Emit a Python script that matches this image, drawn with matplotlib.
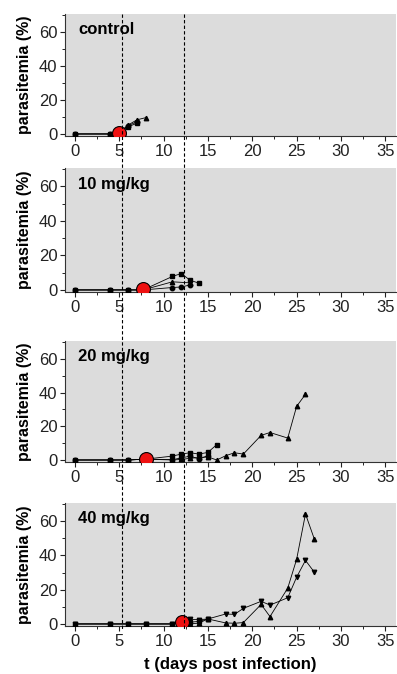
import matplotlib
matplotlib.use("Agg")
import matplotlib.pyplot as plt
from matplotlib.lines import Line2D
from matplotlib.ticker import MultipleLocator
import matplotlib.transforms as mtransforms

plt.rcParams['font.family'] = ['Liberation Sans', 'DejaVu Sans']

panel_labels = ["control", "10 mg/kg", "20 mg/kg", "40 mg/kg"]

# control
ctrl_sq_days = [0, 4, 5, 6, 7]
ctrl_sq_vals = [0, 0, 0.8, 4.2, 6.3]
ctrl_ci_days = [0, 4, 5, 6, 7]
ctrl_ci_vals = [0, 0, 0.8, 4.8, 7.2]
ctrl_tr_days = [0, 4, 5, 6, 7, 8]
ctrl_tr_vals = [0, 0, 0.8, 5.2, 8.3, 9.6]
ctrl_red = (5, 0.8)

# 10 mg/kg
d10_sq_days = [0, 4, 6, 7.7, 11, 12, 13, 14]
d10_sq_vals = [0, 0, 0, 0, 7.8, 9.5, 5.6, 3.9]
d10_tr_days = [0, 4, 6, 7.7, 11, 13]
d10_tr_vals = [0, 0, 0, 0, 4.7, 4.1]
d10_ci_days = [0, 4, 6, 7.7, 11, 12, 13]
d10_ci_vals = [0, 0, 0, 0, 1.4, 1.7, 2.9]
d10_red = (7.7, 0.3)

# 20 mg/kg
d20_sq_days = [0, 4, 6, 8, 11, 12, 13, 14, 15, 16]
d20_sq_vals = [0, 0, 0, 0.5, 2.3, 3.5, 4.3, 3.5, 4.5, 9.1]
d20_ci_days = [0, 4, 6, 8, 11, 12, 13, 14, 15]
d20_ci_vals = [0, 0, 0, 0.5, 0.2, 1.2, 2.3, 0.6, 2.5]
d20_tr_days = [0, 4, 6, 8, 11, 12, 13, 14, 15, 16, 17, 18, 19, 21, 22, 24, 25, 26]
d20_tr_vals = [0, 0, 0, 0.5, 0, 0.3, 1.0, 1.5, 1.8, 0, 2.5, 4.3, 3.5, 14.6, 16.3, 13, 31.8, 39]
d20_red = (8, 0.5)

# 40 mg/kg
d40_sq_days = [0, 4, 6, 8, 11, 12.1, 13, 14, 15]
d40_sq_vals = [0, 0, 0, 0, 0, 1, 1, 1.5, 2.9]
d40_dn_days = [0, 4, 6, 8, 11, 12.1, 13, 14, 15, 17, 18, 19, 21, 22, 24, 25, 26, 27]
d40_dn_vals = [0, 0, 0, 0, 0, 1, 2.7, 2.5, 2.9, 5.8, 5.6, 9.1, 13.2, 11, 15.3, 27.3, 37.1, 30.2]
d40_up_days = [0, 4, 6, 8, 11, 12.1, 13, 14, 15, 17, 18, 19, 21, 22, 24, 25, 26, 27]
d40_up_vals = [0, 0, 0, 0, 0, 1, 0, 0.5, 2.9, 0.6, 0.4, 0.8, 11.4, 4.3, 20.9, 37.7, 64.2, 49.5]
d40_red = (12.1, 1.0)

vlines_x = [5.3, 12.3]
xticks = [0, 5, 10, 15, 20, 25, 30, 35]
yticks = [0, 20, 40, 60]

panels = [
    [(ctrl_sq_days, ctrl_sq_vals, 's'), (ctrl_ci_days, ctrl_ci_vals, 'o'), (ctrl_tr_days, ctrl_tr_vals, '^')],
    [(d10_sq_days, d10_sq_vals, 's'), (d10_tr_days, d10_tr_vals, '^'), (d10_ci_days, d10_ci_vals, 'o')],
    [(d20_sq_days, d20_sq_vals, 's'), (d20_ci_days, d20_ci_vals, 'o'), (d20_tr_days, d20_tr_vals, '^')],
    [(d40_sq_days, d40_sq_vals, 's'), (d40_dn_days, d40_dn_vals, 'v'), (d40_up_days, d40_up_vals, '^')],
]
reds = [ctrl_red, d10_red, d20_red, d40_red]

W, H = 397, 674
fig = plt.figure(figsize=(W / 100, H / 100), dpi=100)
fig.patch.set_facecolor('white')

# pixel rows (top, bottom) for each panel
rows = [(14, 136), (168, 292), (341, 462), (503, 626)]
left_px, right_px = 65, 396

axes = []
for i, (top, bot) in enumerate(rows):
    ax = fig.add_axes([left_px / W, 1 - bot / H, (right_px - left_px) / W, (bot - top) / H])
    ax.set_facecolor('#dcdcdc')
    for days, vals, m in panels[i]:
        ax.plot(days, vals, color='black', lw=0.6, marker=m, ms=3.2, mfc='black', mec='black', zorder=3)
    rx, ry = reds[i]
    ax.plot([rx], [ry], marker='o', ms=10, mfc='#ee1111', mec='black', mew=0.8, ls='none', zorder=5)
    ax.set_xlim(-1.1, 36.2)
    ax.set_ylim(-1.2, 70.6)
    ax.set_xticks(xticks)
    ax.set_yticks(yticks)
    ax.xaxis.set_minor_locator(MultipleLocator(2.5))
    ax.yaxis.set_minor_locator(MultipleLocator(10))
    for s in ['top', 'right']:
        ax.spines[s].set_visible(False)
    for s in ['left', 'bottom']:
        ax.spines[s].set_linewidth(0.8)
        ax.spines[s].set_color('#333333')
    ax.tick_params(axis='both', which='major', length=3.5, width=0.8, labelsize=12, pad=2, colors='#222222')
    ax.tick_params(axis='both', which='minor', length=2, width=0.6)
    ax.set_ylabel('parasitemia (%)', fontsize=11.5, fontweight='bold', labelpad=5)
    ax.text(0.04, 0.87, panel_labels[i], transform=ax.transAxes, fontsize=12,
            fontweight='bold', va='center', ha='left', zorder=6)
    axes.append(ax)

axes[-1].set_xlabel('t (days post infection)', fontsize=12, fontweight='bold', labelpad=6)

trans = mtransforms.blended_transform_factory(axes[0].transData, fig.transFigure)
for xv in vlines_x:
    ln = Line2D([xv, xv], [1 - 14 / H, 1 - 629 / H], transform=trans, color='black',
                lw=0.8, ls=(0, (3, 2)), zorder=10)
    fig.add_artist(ln)

fig.savefig('out.png', dpi=100)
